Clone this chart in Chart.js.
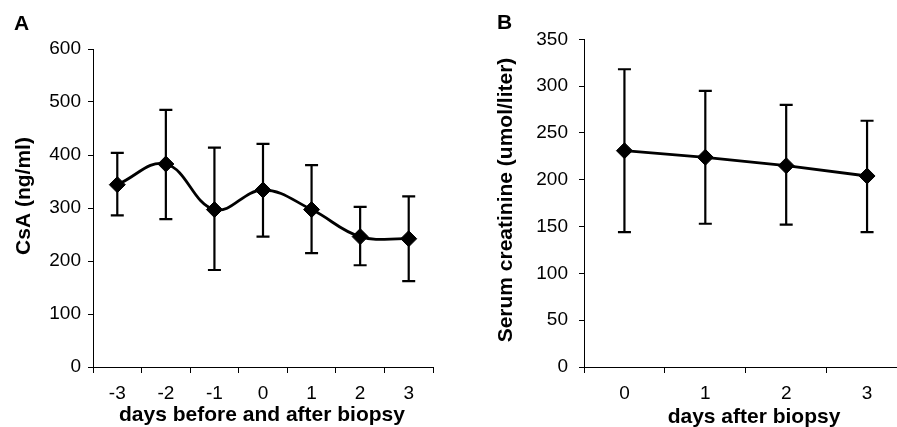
<!DOCTYPE html>
<html>
<head>
<meta charset="utf-8">
<script src="https://cdn.jsdelivr.net/npm/chart.js@4.4.0/dist/chart.umd.min.js"></script>
<style>
  html, body { margin: 0; padding: 0; background: #fff; overflow: hidden; width: 897px; height: 427px; }
  #chartA { position: absolute; left: 0; top: 0; }
  #chartB { position: absolute; left: 450px; top: 0; }
</style>
</head>
<body>
<canvas id="chartA" width="450" height="427"></canvas>
<canvas id="chartB" width="470" height="427"></canvas>
<script>
// Panel A: CsA levels around biopsy
const daysA = ['-3', '-2', '-1', '0', '1', '2', '3'];
const csaMean = [344, 383, 297, 334, 297, 246, 242];
const csaUpper = [404, 485, 414, 421, 381, 302, 322];
const csaLower = [286, 279, 183, 246, 215, 192, 162];
const ticksA = [0, 100, 200, 300, 400, 500, 600];

// Panel B: serum creatinine after biopsy
const daysB = ['0', '1', '2', '3'];
const creatMean = [231, 224, 215, 204];
const creatUpper = [318, 295, 280, 263];
const creatLower = [144, 153, 152, 144];
const ticksB = [0, 50, 100, 150, 200, 250, 300, 350];

const FONT = '"Liberation Sans", Arial, Helvetica, sans-serif';

// draws mean +/- error bars under the line and markers
const errorBars = {
  id: 'errorBars',
  beforeDatasetsDraw(chart, args, opts) {
    const { ctx, scales: { x, y } } = chart;
    ctx.save();
    ctx.strokeStyle = '#000';
    ctx.lineWidth = 2.2;
    opts.upper.forEach((hi, i) => {
      const px = x.getPixelForValue(i);
      const top = y.getPixelForValue(hi);
      const bot = y.getPixelForValue(opts.lower[i]);
      ctx.beginPath();
      ctx.moveTo(px, top); ctx.lineTo(px, bot);
      ctx.moveTo(px - 6.5, top); ctx.lineTo(px + 6.5, top);
      ctx.moveTo(px - 6.5, bot); ctx.lineTo(px + 6.5, bot);
      ctx.stroke();
    });
    ctx.restore();
  }
};

// panel letter and axis titles
const panelText = {
  id: 'panelText',
  afterDraw(chart, args, opts) {
    const ctx = chart.ctx;
    ctx.save();
    ctx.fillStyle = '#000';
    ctx.textBaseline = 'alphabetic';
    ctx.font = 'bold 21px ' + FONT;
    ctx.textAlign = 'left';
    ctx.fillText(opts.letter, opts.letterX, opts.letterY);
    ctx.textAlign = 'center';
    ctx.fillText(opts.xTitle, opts.xTitleX, opts.xTitleY);
    ctx.translate(opts.yTitleX, opts.yTitleY);
    ctx.rotate(-Math.PI / 2);
    ctx.fillText(opts.yTitle, 0, 0);
    ctx.restore();
  }
};

function makeChart(id, p) {
  return new Chart(document.getElementById(id), {
    type: 'line',
    data: {
      labels: p.labels,
      datasets: [{
        data: p.mean,
        borderColor: '#000',
        borderWidth: 2.8,
        backgroundColor: '#000',
        pointStyle: 'rectRot',
        pointRadius: 8,
        pointBorderWidth: 1,
        pointBackgroundColor: '#000',
        pointBorderColor: '#000',
        tension: p.tension,
        fill: false
      }]
    },
    options: {
      responsive: false,
      animation: false,
      events: [],
      layout: { padding: { left: 0, right: p.padRight, top: p.padTop, bottom: 0 } },
      plugins: {
        legend: { display: false },
        tooltip: { enabled: false },
        errorBars: { upper: p.upper, lower: p.lower },
        panelText: p.text
      },
      scales: {
        x: {
          offset: true,
          afterFit: s => { s.height = 60; },
          grid: { offset: true, drawOnChartArea: false, drawTicks: true, tickLength: 6, color: '#000' },
          border: { display: true, color: '#000', width: 1 },
          ticks: { color: '#000', font: { family: FONT, size: 19 }, padding: 9, maxRotation: 0 }
        },
        y: {
          min: 0,
          max: p.yTicks[p.yTicks.length - 1],
          afterFit: s => { s.width = p.yWidth; },
          afterBuildTicks: s => { s.ticks = p.yTicks.map(v => ({ value: v })); },
          grid: { drawOnChartArea: false, drawTicks: true, tickLength: 5, color: '#000' },
          border: { display: true, color: '#000', width: 1 },
          ticks: { color: '#000', font: { family: FONT, size: 19 }, padding: p.yPad }
        }
      }
    },
    plugins: [errorBars, panelText]
  });
}

makeChart('chartA', {
  labels: daysA, mean: csaMean, upper: csaUpper, lower: csaLower, yTicks: ticksA,
  tension: 0.4, padRight: 17, padTop: 49, yWidth: 93, yPad: 7,
  text: {
    letter: 'A', letterX: 14, letterY: 30,
    xTitle: 'days before and after biopsy', xTitleX: 262, xTitleY: 421,
    yTitle: 'CsA (ng/ml)', yTitleX: 30, yTitleY: 196
  }
});

makeChart('chartB', {
  labels: daysB, mean: creatMean, upper: creatUpper, lower: creatLower, yTicks: ticksB,
  tension: 0, padRight: 12.5, padTop: 39.3, yWidth: 134, yPad: 11,
  text: {
    letter: 'B', letterX: 47, letterY: 29,
    xTitle: 'days after biopsy', xTitleX: 304, xTitleY: 423,
    yTitle: 'Serum creatinine (umol/liter)', yTitleX: 62, yTitleY: 200
  }
});
</script>
</body>
</html>
